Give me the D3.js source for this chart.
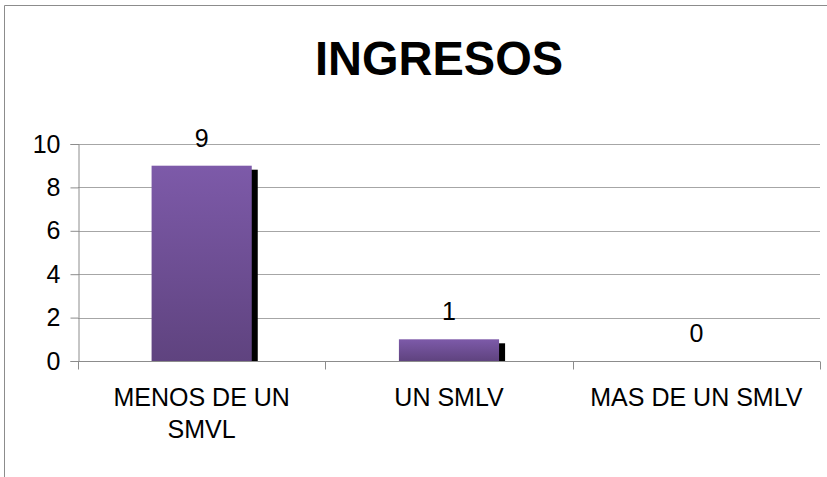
<!DOCTYPE html>
<html>
<head>
<meta charset="utf-8">
<script src="https://cdn.jsdelivr.net/npm/d3@7"></script>
<style>
  body { margin: 0; background: #fff; }
  text { font-family: "Liberation Sans", Arial, sans-serif; }
</style>
</head>
<body>
<div id="chart"></div>
<script>
// data
const categories = ["MENOS DE UN SMVL", "UN SMLV", "MAS DE UN SMLV"];
const labelLines = [["MENOS DE UN", "SMVL"], ["UN SMLV"], ["MAS DE UN SMLV"]];
const values = [9, 1, 0];
const yTicks = [0, 2, 4, 6, 8, 10];

const width = 827;
const height = 477;
const margin = {top: 144, right: 7, bottom: 116, left: 78};
const fontSize = "25px";

const svg = d3.select("#chart").append("svg")
    .attr("width", width)
    .attr("height", height);

// outer frame (cut off at right/bottom)
svg.append("path")
    .attr("d", "M4.5," + height + "V5.5H" + width)
    .style("fill", "none")
    .style("stroke", "#8c8c8c")
    .style("stroke-width", 1);

svg.append("text")
    .attr("transform", "translate(439,75) scale(1,1.04)")
    .attr("text-anchor", "middle")
    .style("font-size", "47px")
    .style("font-weight", "bold")
    .text("INGRESOS");

const x = d3.scaleBand()
    .domain(categories)
    .range([margin.left, width - margin.right]);

const y = d3.scaleLinear()
    .domain([0, 10])
    .range([height - margin.bottom, margin.top]);

const defs = svg.append("defs");
const grad = defs.append("linearGradient")
    .attr("id", "barGrad")
    .attr("x1", "0%").attr("x2", "0%")
    .attr("y1", "0%").attr("y2", "100%");
grad.append("stop").attr("offset", "0%").attr("stop-color", "#7d5aa9");
grad.append("stop").attr("offset", "100%").attr("stop-color", "#5f437f");

// gridlines
svg.append("g")
    .selectAll("line")
    .data(yTicks.filter(d => d > 0))
    .enter()
    .append("line")
    .attr("x1", margin.left)
    .attr("x2", width - margin.right)
    .attr("y1", d => Math.round(y(d)) + 0.5)
    .attr("y2", d => Math.round(y(d)) + 0.5)
    .style("stroke", "#a6a6a6")
    .style("stroke-width", 1);

// y axis
const yAxis = d3.axisLeft(y)
    .tickValues(yTicks)
    .tickSize(8)
    .tickPadding(10)
    .tickFormat(d => d);

const gy = svg.append("g")
    .attr("transform", "translate(" + (margin.left + 0.5) + ",0)")
    .call(yAxis);
gy.select(".domain").style("stroke", "#8c8c8c");
gy.selectAll(".tick line").style("stroke", "#8c8c8c");
gy.selectAll(".tick text")
    .style("font-size", fontSize)
    .style("font-family", "Liberation Sans, Arial, sans-serif")
    .attr("fill", "#000");

// bars with black shadow
const barW = x.bandwidth() * 0.405;
const bars = svg.append("g");
categories.forEach((c, i) => {
    const v = values[i];
    const bx = x(c) + (x.bandwidth() - barW) / 2;
    if (v > 0) {
        bars.append("rect")
            .attr("x", bx + 6)
            .attr("y", y(v) + 4)
            .attr("width", barW)
            .attr("height", y(0) - y(v) - 4)
            .style("fill", "#000");
        bars.append("rect")
            .attr("x", bx)
            .attr("y", y(v))
            .attr("width", barW)
            .attr("height", y(0) - y(v))
            .style("fill", "url(#barGrad)");
    }
    bars.append("text")
        .attr("x", x(c) + x.bandwidth() / 2)
        .attr("y", y(v) - 19)
        .attr("text-anchor", "middle")
        .style("font-size", fontSize)
        .text(v);
});

// x axis
const gx = svg.append("g")
    .attr("transform", "translate(0," + (Math.round(y(0)) + 0.5) + ")");
gx.append("line")
    .attr("x1", margin.left)
    .attr("x2", width - margin.right)
    .style("stroke", "#8c8c8c");
gx.selectAll(".xtick")
    .data(categories.map(c => x(c)).concat([width - margin.right]))
    .enter()
    .append("line")
    .attr("class", "xtick")
    .attr("x1", d => Math.round(d) + 0.5)
    .attr("x2", d => Math.round(d) + 0.5)
    .attr("y1", 0)
    .attr("y2", 8)
    .style("stroke", "#8c8c8c");

categories.forEach((c, i) => {
    const t = svg.append("text")
        .attr("text-anchor", "middle")
        .style("font-size", fontSize);
    labelLines[i].forEach((line, j) => {
        t.append("tspan")
            .attr("x", x(c) + x.bandwidth() / 2)
            .attr("y", 406 + j * 32)
            .text(line);
    });
});
</script>
</body>
</html>
